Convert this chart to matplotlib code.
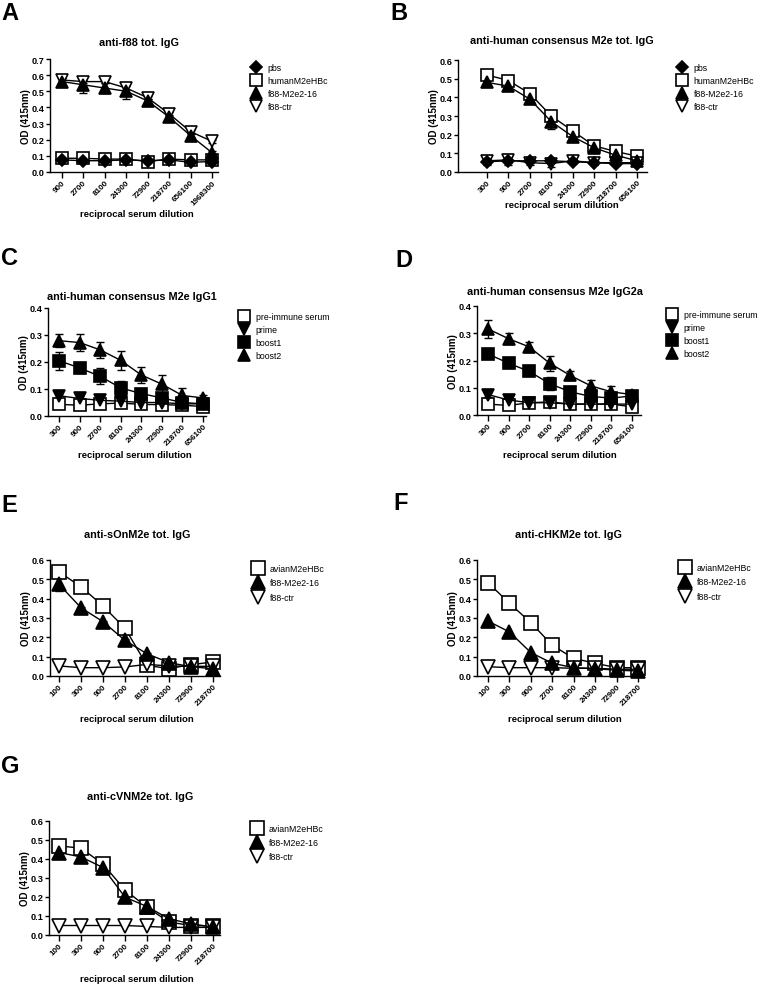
import matplotlib
matplotlib.use('Agg')
import matplotlib.pyplot as plt
from matplotlib.lines import Line2D
import numpy as np

plt.rcParams['font.family'] = ['Liberation Sans', 'DejaVu Sans']

W, H, DPI = 764, 987, 100

# ---------------- data ----------------
dil_A = ['900', '2700', '8100', '24300', '72900', '218700', '656100', '1968300']
dil_BCD = ['300', '900', '2700', '8100', '24300', '72900', '218700', '656100']
dil_EFG = ['100', '300', '900', '2700', '8100', '24300', '72900', '218700']

# Panel A: anti-f88 tot. IgG
A_pbs = [0.075, 0.07, 0.07, 0.075, 0.07, 0.075, 0.06, 0.065]
A_pbs_err = [0.005, 0.005, 0.005, 0.005, 0.005, 0.005, 0.005, 0.005]
A_hum = [0.085, 0.085, 0.08, 0.08, 0.065, 0.08, 0.075, 0.075]
A_hum_err = [0.01, 0.01, 0.01, 0.01, 0.01, 0.01, 0.01, 0.01]
A_f88 = [0.56, 0.54, 0.52, 0.50, 0.44, 0.34, 0.225, 0.12]
A_f88_err = [0.02, 0.05, 0.03, 0.05, 0.01, 0.015, 0.01, 0.01]
A_ctr = [0.57, 0.56, 0.56, 0.52, 0.46, 0.36, 0.25, 0.19]
A_ctr_err = [0.01, 0.01, 0.01, 0.01, 0.01, 0.01, 0.01, 0.01]

# Panel B: anti-human consensus M2e tot. IgG
B_pbs = [0.055, 0.06, 0.06, 0.06, 0.055, 0.05, 0.045, 0.045]
B_pbs_err = [0.01, 0.01, 0.01, 0.01, 0.005, 0.005, 0.005, 0.005]
B_hum = [0.52, 0.49, 0.42, 0.30, 0.22, 0.14, 0.11, 0.085]
B_hum_err = [0.015, 0.01, 0.015, 0.02, 0.015, 0.015, 0.02, 0.015]
B_f88 = [0.48, 0.46, 0.39, 0.27, 0.19, 0.13, 0.09, 0.06]
B_f88_err = [0.01, 0.01, 0.015, 0.04, 0.02, 0.01, 0.02, 0.01]
B_ctr = [0.06, 0.065, 0.05, 0.045, 0.06, 0.05, 0.05, 0.05]
B_ctr_err = [0.025, 0.025, 0.01, 0.02, 0.01, 0.01, 0.01, 0.01]

# Panel C: anti-human consensus M2e IgG1
C_pre = [0.043, 0.04, 0.045, 0.048, 0.043, 0.042, 0.04, 0.035]
C_pre_err = [0.005, 0.005, 0.005, 0.005, 0.005, 0.005, 0.005, 0.005]
C_prime = [0.075, 0.065, 0.058, 0.055, 0.05, 0.05, 0.045, 0.045]
C_prime_err = [0.01, 0.008, 0.005, 0.005, 0.005, 0.005, 0.005, 0.005]
C_boost1 = [0.205, 0.178, 0.147, 0.104, 0.083, 0.067, 0.05, 0.045]
C_boost1_err = [0.033, 0.02, 0.03, 0.025, 0.015, 0.01, 0.01, 0.01]
C_boost2 = [0.279, 0.272, 0.245, 0.206, 0.152, 0.118, 0.076, 0.067]
C_boost2_err = [0.025, 0.033, 0.03, 0.035, 0.03, 0.033, 0.027, 0.01]

# Panel D: anti-human consensus M2e IgG2a
D_pre = [0.04, 0.035, 0.045, 0.048, 0.04, 0.04, 0.04, 0.03]
D_pre_err = [0.005, 0.005, 0.005, 0.005, 0.005, 0.005, 0.005, 0.005]
D_prime = [0.075, 0.055, 0.045, 0.045, 0.04, 0.04, 0.04, 0.04]
D_prime_err = [0.01, 0.005, 0.005, 0.005, 0.005, 0.005, 0.005, 0.005]
D_boost1 = [0.224, 0.19, 0.16, 0.115, 0.085, 0.068, 0.062, 0.07]
D_boost1_err = [0.01, 0.01, 0.01, 0.025, 0.01, 0.01, 0.01, 0.01]
D_boost2 = [0.316, 0.28, 0.25, 0.19, 0.145, 0.107, 0.085, 0.075]
D_boost2_err = [0.033, 0.02, 0.018, 0.028, 0.018, 0.02, 0.02, 0.01]

# Panel E: anti-sOnM2e tot. IgG
E_avian = [0.538, 0.462, 0.362, 0.247, 0.055, 0.038, 0.059, 0.072]
E_f88 = [0.474, 0.353, 0.281, 0.184, 0.115, 0.069, 0.048, 0.038]
E_f88_err = [0.035, 0.005, 0.005, 0.005, 0.005, 0.005, 0.005, 0.005]
E_ctr = [0.052, 0.043, 0.043, 0.047, 0.06, 0.052, 0.05, 0.05]

# Panel F: anti-cHKM2e tot. IgG
F_avian = [0.483, 0.376, 0.276, 0.159, 0.091, 0.066, 0.043, 0.043]
F_f88 = [0.284, 0.228, 0.121, 0.066, 0.043, 0.038, 0.03, 0.026]
F_ctr = [0.048, 0.043, 0.043, 0.043, 0.04, 0.04, 0.035, 0.035]

# Panel G: anti-cVNM2e tot. IgG
G_avian = [0.469, 0.457, 0.373, 0.237, 0.146, 0.068, 0.05, 0.047]
G_f88 = [0.434, 0.411, 0.355, 0.199, 0.15, 0.085, 0.059, 0.042]
G_ctr = [0.05, 0.05, 0.05, 0.05, 0.045, 0.04, 0.04, 0.04]

# ---------------- styling ----------------
STY = {
    'pbs': dict(marker='D', mfc='black', size=0.8),
    'sq_open': dict(marker='s', mfc='white', size=1.0),
    'sq_fill': dict(marker='s', mfc='black', size=1.0),
    'tri_up': dict(marker='^', mfc='black', size=1.05),
    'tri_down_open': dict(marker='v', mfc='white', size=1.05),
    'tri_down_fill': dict(marker='v', mfc='black', size=1.05),
}

LEG_FS = 6.3

fig = plt.figure(figsize=(W / DPI, H / DPI), dpi=DPI)


def fx(x):
    return x / W


def fy(y):
    return 1 - y / H


def panel(label, label_xy, layout, title, title_xy, ticks, series, legend_order,
          ymax, leg_xy, xlab_xy, ms=8.0, leg_space=0.45):
    yax, t0, t1, xend, ytop, ybot = layout
    ax = fig.add_axes([fx(yax), fy(ybot), (xend - yax) / W, (ybot - ytop) / H])
    n = len(ticks)
    sp = (t1 - t0) / (n - 1)
    ax.set_xlim(-(t0 - yax) / sp, (n - 1) + (xend - t1) / sp)
    ax.set_ylim(0, ymax)
    x = np.arange(n)
    hdict = {}
    for name, key, vals, err in series:
        st = STY[key]
        m = ms * st['size']
        if err is not None:
            ax.errorbar(x, vals, yerr=err, fmt='none', ecolor='black',
                        elinewidth=1.0, capsize=3.2, capthick=1.0, clip_on=False, zorder=2)
        ax.plot(x, vals, color='black', lw=1.0, marker=st['marker'], ms=m,
                mfc=st['mfc'], mec='black', mew=1.2, clip_on=False, zorder=3)
        hdict[name] = Line2D([], [], ls='none', marker=st['marker'], ms=m,
                             mfc=st['mfc'], mec='black', mew=1.2, color='black')
    for sp_name in ('top', 'right'):
        ax.spines[sp_name].set_visible(False)
    for sp_name in ('left', 'bottom'):
        ax.spines[sp_name].set_linewidth(1.0)
    ax.set_xticks(x)
    ax.set_xticklabels(ticks, rotation=45, ha='right', rotation_mode='anchor',
                       fontsize=5.8, fontweight='bold')
    yt = np.round(np.arange(0, ymax + 1e-9, 0.1), 1)
    ax.set_yticks(yt)
    ax.set_yticklabels(['%.1f' % v for v in yt], fontsize=6.6, fontweight='bold')
    ax.tick_params(axis='y', direction='out', length=3, width=1.0, pad=1)
    ax.tick_params(axis='x', direction='out', length=4, width=1.0, pad=0.8)
    ax.set_ylabel('OD (415nm)', fontsize=7.0, fontweight='bold', labelpad=0.5)
    fig.text(fx(xlab_xy[0]), fy(xlab_xy[1]), 'reciprocal serum dilution',
             ha='center', va='center', fontsize=6.8, fontweight='bold')
    fig.text(fx(title_xy[0]), fy(title_xy[1]), title, ha='center', va='center',
             fontsize=7.8, fontweight='bold')
    fig.text(fx(label_xy[0]), fy(label_xy[1]), label, ha='left', va='baseline',
             fontsize=17, fontweight='bold')
    fs_px = LEG_FS * DPI / 72.0
    left = leg_xy[0] - 0.5 * fs_px
    ax.legend([hdict[nm] for nm in legend_order], legend_order, loc='upper left',
              bbox_to_anchor=(fx(left), fy(leg_xy[1] - 3)),
              bbox_transform=fig.transFigure, frameon=False, fontsize=LEG_FS,
              handlelength=1.0, handletextpad=0.85, labelspacing=leg_space,
              borderpad=0, borderaxespad=0)
    return ax


ORD_AB = ['pbs', 'humanM2eHBc', 'f88-M2e2-16', 'f88-ctr']
ORD_CD = ['pre-immune serum', 'prime', 'boost1', 'boost2']
ORD_EFG = ['avianM2eHBc', 'f88-M2e2-16', 'f88-ctr']

panel('A', (1, 20), (50, 62, 212, 218, 60, 173), 'anti-f88 tot. IgG', (139, 43),
      dil_A,
      [('humanM2eHBc', 'sq_open', A_hum, A_hum_err),
       ('f88-ctr', 'tri_down_open', A_ctr, A_ctr_err),
       ('pbs', 'pbs', A_pbs, A_pbs_err),
       ('f88-M2e2-16', 'tri_up', A_f88, A_f88_err)],
      ORD_AB, 0.7, (256, 67), (137, 215))

panel('B', (390, 20), (458, 487, 637, 647, 61, 173),
      'anti-human consensus M2e tot. IgG', (562, 41), dil_BCD,
      [('humanM2eHBc', 'sq_open', B_hum, B_hum_err),
       ('f88-ctr', 'tri_down_open', B_ctr, B_ctr_err),
       ('pbs', 'pbs', B_pbs, B_pbs_err),
       ('f88-M2e2-16', 'tri_up', B_f88, B_f88_err)],
      ORD_AB, 0.6, (682, 67), (562, 205))

panel('C', (1, 265), (48, 59, 203, 206, 309, 417),
      'anti-human consensus M2e IgG1', (132, 297), dil_BCD,
      [('pre-immune serum', 'sq_open', C_pre, C_pre_err),
       ('prime', 'tri_down_fill', C_prime, C_prime_err),
       ('boost1', 'sq_fill', C_boost1, C_boost1_err),
       ('boost2', 'tri_up', C_boost2, C_boost2_err)],
      ORD_CD, 0.4, (244, 316), (135, 456))

panel('D', (395, 267), (477, 488, 632, 641, 307, 416),
      'anti-human consensus M2e IgG2a', (555, 292), dil_BCD,
      [('pre-immune serum', 'sq_open', D_pre, D_pre_err),
       ('prime', 'tri_down_fill', D_prime, D_prime_err),
       ('boost1', 'sq_fill', D_boost1, D_boost1_err),
       ('boost2', 'tri_up', D_boost2, D_boost2_err)],
      ORD_CD, 0.4, (672, 314), (560, 456))

panel('E', (1, 512), (50, 59, 213, 220, 561, 677), 'anti-sOnM2e tot. IgG', (137, 535),
      dil_EFG,
      [('avianM2eHBc', 'sq_open', E_avian, None),
       ('f88-ctr', 'tri_down_open', E_ctr, None),
       ('f88-M2e2-16', 'tri_up', E_f88, E_f88_err)],
      ORD_EFG, 0.6, (258, 568), (137, 720), ms=9.5, leg_space=0.62)

panel('F', (393, 510), (477, 488, 638, 643, 561, 677), 'anti-cHKM2e tot. IgG', (568, 535),
      dil_EFG,
      [('avianM2eHBc', 'sq_open', F_avian, None),
       ('f88-ctr', 'tri_down_open', F_ctr, None),
       ('f88-M2e2-16', 'tri_up', F_f88, None)],
      ORD_EFG, 0.6, (685, 567), (565, 720), ms=9.5, leg_space=0.62)

panel('G', (1, 773), (49, 59, 213, 220, 822, 936), 'anti-cVNM2e tot. IgG', (140, 797),
      dil_EFG,
      [('avianM2eHBc', 'sq_open', G_avian, None),
       ('f88-ctr', 'tri_down_open', G_ctr, None),
       ('f88-M2e2-16', 'tri_up', G_f88, None)],
      ORD_EFG, 0.6, (257, 828), (137, 980), ms=9.5, leg_space=0.55)

fig.savefig('out.png', dpi=DPI)
